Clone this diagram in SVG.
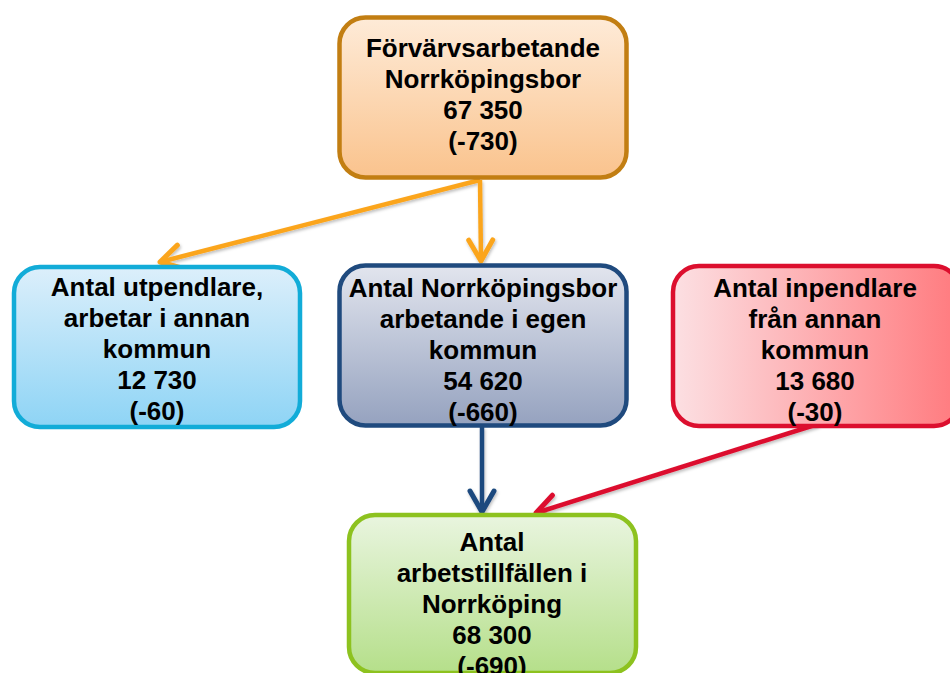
<svg xmlns="http://www.w3.org/2000/svg" width="950" height="673" viewBox="0 0 950 673">
<style>
  .lbl { font-family: "Liberation Sans", Arial, sans-serif; font-weight: bold; font-size: 26px; fill: #000; text-anchor: middle; }
  .box { stroke-width: 4.5; }
  .conn { fill: none; stroke-width: 4.5; }
</style>
<defs>
  <linearGradient id="gTop" x1="0" y1="0" x2="0" y2="1">
    <stop offset="0" stop-color="#FEEBD8"/>
    <stop offset="1" stop-color="#FAC38D"/>
  </linearGradient>
  <linearGradient id="gLeft" x1="0" y1="0" x2="0" y2="1">
    <stop offset="0" stop-color="#DCEFFB"/>
    <stop offset="1" stop-color="#8ED4F5"/>
  </linearGradient>
  <linearGradient id="gMid" x1="0" y1="0" x2="0" y2="1">
    <stop offset="0" stop-color="#E2E5EE"/>
    <stop offset="1" stop-color="#95A2BF"/>
  </linearGradient>
  <linearGradient id="gRight" x1="0" y1="0" x2="1" y2="0">
    <stop offset="0" stop-color="#FCE0E3"/>
    <stop offset="1" stop-color="#FF7A7E"/>
  </linearGradient>
  <linearGradient id="gBot" x1="0" y1="0" x2="0" y2="1">
    <stop offset="0" stop-color="#E9F5DF"/>
    <stop offset="1" stop-color="#B5DF8A"/>
  </linearGradient>
  <filter id="shadow" x="-10%" y="-10%" width="120%" height="130%">
    <feDropShadow dx="1" dy="2" stdDeviation="1.5" flood-color="#000" flood-opacity="0.25"/>
  </filter>
  <marker id="aOrange" markerUnits="userSpaceOnUse" viewBox="-30 -20 40 40" refX="0" refY="0" markerWidth="40" markerHeight="40" orient="auto" overflow="visible">
    <path d="M-21,-12 L0,0 L-21,12" fill="none" stroke="#FBA51E" stroke-width="5" stroke-linecap="round" stroke-linejoin="round"/>
  </marker>
  <marker id="aBlue" markerUnits="userSpaceOnUse" viewBox="-30 -20 40 40" refX="0" refY="0" markerWidth="40" markerHeight="40" orient="auto" overflow="visible">
    <path d="M-21,-12 L0,0 L-21,12" fill="none" stroke="#1F4A7E" stroke-width="5" stroke-linecap="round" stroke-linejoin="round"/>
  </marker>
  <marker id="aRed" markerUnits="userSpaceOnUse" viewBox="-30 -20 40 40" refX="0" refY="0" markerWidth="40" markerHeight="40" orient="auto" overflow="visible">
    <path d="M-21,-12 L0,0 L-21,12" fill="none" stroke="#DC0F2E" stroke-width="5" stroke-linecap="round" stroke-linejoin="round"/>
  </marker>
</defs>
<rect width="950" height="673" fill="#FFFFFF"/>

<g id="connectors" filter="url(#shadow)">
  <line class="conn" x1="480" y1="180" x2="481" y2="261" stroke="#FBA51E" marker-end="url(#aOrange)"/>
  <line class="conn" x1="480" y1="180" x2="160" y2="262" stroke="#FBA51E" marker-end="url(#aOrange)"/>
  <line class="conn" x1="482" y1="427" x2="482" y2="512" stroke="#1F4A7E" marker-end="url(#aBlue)"/>
  <line class="conn" x1="818" y1="424" x2="536" y2="513" stroke="#DC0F2E" marker-end="url(#aRed)"/>
</g>

<g id="node-top">
  <rect class="box" x="339.5" y="17.5" width="287" height="160" rx="26" fill="url(#gTop)" stroke="#C27E12"/>
  <text class="lbl" x="483" y="57">Förvärvsarbetande</text>
  <text class="lbl" x="483" y="88">Norrköpingsbor</text>
  <text class="lbl" x="483" y="119">67 350</text>
  <text class="lbl" x="483" y="150">(-730)</text>
</g>

<g id="node-left">
  <rect class="box" x="14" y="267" width="286" height="160" rx="26" fill="url(#gLeft)" stroke="#12ACD8"/>
  <text class="lbl" x="157" y="296">Antal utpendlare,</text>
  <text class="lbl" x="157" y="327">arbetar i annan</text>
  <text class="lbl" x="157" y="358">kommun</text>
  <text class="lbl" x="157" y="389">12 730</text>
  <text class="lbl" x="157" y="420">(-60)</text>
</g>

<g id="node-mid">
  <rect class="box" x="339.5" y="265.5" width="287" height="160" rx="26" fill="url(#gMid)" stroke="#1F4A7E"/>
  <text class="lbl" x="483" y="297">Antal Norrköpingsbor</text>
  <text class="lbl" x="483" y="328">arbetande i egen</text>
  <text class="lbl" x="483" y="359">kommun</text>
  <text class="lbl" x="483" y="390">54 620</text>
  <text class="lbl" x="483" y="421">(-660)</text>
</g>

<g id="node-right">
  <rect class="box" x="673" y="266" width="287" height="160" rx="26" fill="url(#gRight)" stroke="#DC0F2E"/>
  <text class="lbl" x="815" y="297">Antal inpendlare</text>
  <text class="lbl" x="815" y="328">från annan</text>
  <text class="lbl" x="815" y="359">kommun</text>
  <text class="lbl" x="815" y="390">13 680</text>
  <text class="lbl" x="815" y="421">(-30)</text>
</g>

<g id="node-bottom">
  <rect class="box" x="349" y="515" width="287" height="158" rx="26" fill="url(#gBot)" stroke="#8DC21F"/>
  <text class="lbl" x="492" y="551">Antal</text>
  <text class="lbl" x="492" y="582">arbetstillfällen i</text>
  <text class="lbl" x="492" y="613">Norrköping</text>
  <text class="lbl" x="492" y="644">68 300</text>
  <text class="lbl" x="492" y="675">(-690)</text>
</g>
</svg>
